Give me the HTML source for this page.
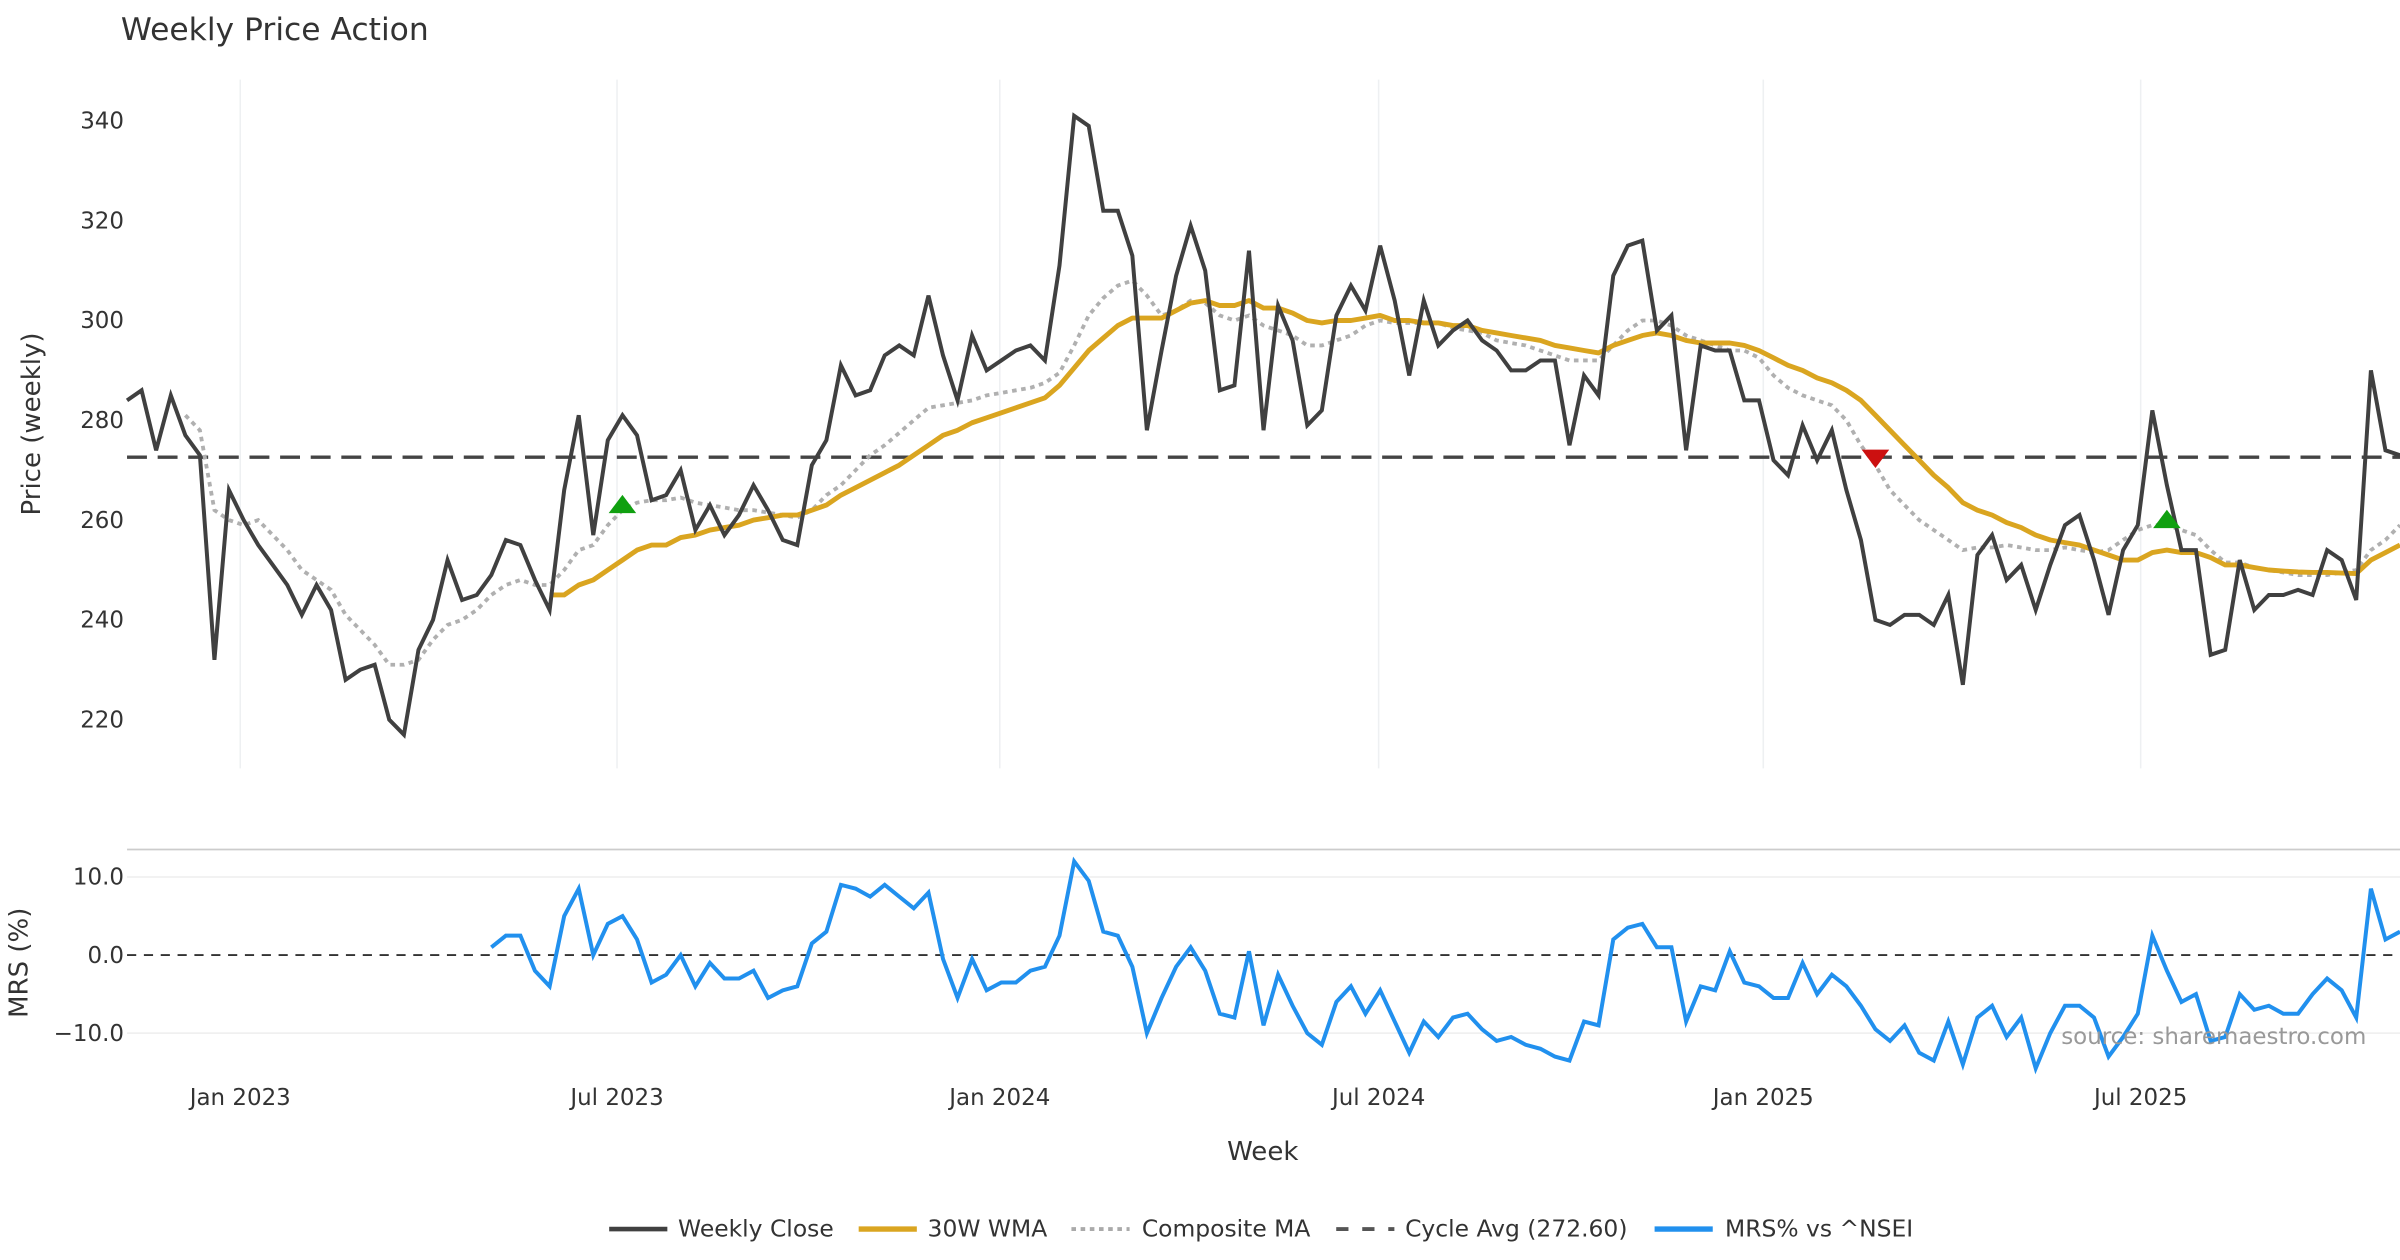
<!DOCTYPE html>
<html><head><meta charset="utf-8"><style>
html,body{margin:0;padding:0;background:#fff;}
svg{display:block;font-family:"DejaVu Sans","Liberation Sans",sans-serif;}
</style></head><body>
<svg id="chart" width="2400" height="1260" viewBox="0 0 1568 823.2" preserveAspectRatio="none" xmlns="http://www.w3.org/2000/svg">
<text x="79" y="26" font-size="20.5" fill="#333">Weekly Price Action</text>
<g id="grid"></g>
<g id="series"></g>
<text transform="translate(26,277) rotate(-90)" text-anchor="middle" font-size="17" fill="#333">Price (weekly)</text>
<text transform="translate(18,629) rotate(-90)" text-anchor="middle" font-size="17" fill="#333">MRS (%)</text>
<text x="825" y="758" text-anchor="middle" font-size="17" fill="#333">Week</text>
<text x="1546" y="682" text-anchor="end" font-size="15" fill="#999">source: sharemaestro.com</text>
<g font-size="15.3" fill="#333">
<g><line x1="398" y1="803" x2="436" y2="803" stroke="#404040" stroke-width="3"/><text x="443" y="808">Weekly Close</text></g>
<g><line x1="561" y1="803" x2="599" y2="803" stroke="#DAA520" stroke-width="3.5"/><text x="606" y="808">30W WMA</text></g>
<g><line x1="700" y1="803" x2="738" y2="803" stroke="#aaa" stroke-width="2.5" stroke-dasharray="3,3"/><text x="746" y="808">Composite MA</text></g>
<g><line x1="873" y1="803" x2="911" y2="803" stroke="#555" stroke-width="2.5" stroke-dasharray="8,9"/><text x="918" y="808">Cycle Avg (272.60)</text></g>
<g><line x1="1081" y1="803" x2="1119" y2="803" stroke="#2190ee" stroke-width="3.5"/><text x="1127" y="808">MRS% vs ^NSEI</text></g>
</g>
</svg>
<script>
const closes=[284,286,274,285,277,273,232,266,260,255,251,247,241,247,242,228,230,231,220,217,234,240,252,244,245,249,256,255,248,242,266,281,257,276,281,277,264,265,270,258,263,257,261,267,262,256,255,271,276,291,285,286,293,295,293,305,293,284,297,290,292,294,295,292,311,341,339,322,322,313,278,294,309,319,310,286,287,314,278,303,296,279,282,301,307,302,315,304,289,304,295,298,300,296,294,290,290,292,292,275,289,285,309,315,316,298,301,274,295,294,294,284,284,272,269,279,272,278,266,256,240,239,241,241,239,245,227,253,257,248,251,242,251,259,261,252,241,254,259,282,267,254,254,233,234,252,242,245,245,246,245,254,252,244,290,274,273];
const wma=[null,null,null,null,null,null,null,null,null,null,null,null,null,null,null,null,null,null,null,null,null,null,null,null,null,null,null,null,null,245,245,247,248,250,252,254,255,255,256.5,257,258,258.5,259,260,260.5,261,261,262,263,265,266.5,268,269.5,271,273,275,277,278,279.5,280.5,281.5,282.5,283.5,284.5,287,290.5,294,296.5,299,300.5,300.5,300.5,302,303.5,304,303,303,304,302.5,302.5,301.5,300,299.5,300,300,300.5,301,300,300,299.5,299.5,299,299,298,297.5,297,296.5,296,295,294.5,294,293.5,295,296,297,297.5,297,296,295.5,295.5,295.5,295,294,292.5,291,290,288.5,287.5,286,284,281,278,275,272,269,266.5,263.5,262,261,259.5,258.5,257,256,255.5,255,254,253,252,252,253.5,254,253.5,253.5,252.5,251,251,250.5,250,249.8,249.6,249.5,249.5,249.4,249.3,252,253.5,255];
const composite=[null,null,null,null,281,278,262,260,259,260,257,254,250,248,246,241,238,235,231,231,232,236,239,240,242,245,247,248,247,247,250,254,255,259,262,263.5,264,264,264.5,263.5,263,262.5,262,262,261.5,261,260.5,262,265,267,270,273,275,277.5,280,282.5,283,283.5,284,285,285.5,286,286.5,287.5,289.5,295,301,304.5,307,308,305,301,302,304,303.5,301,300,301,299,298,297,295,295,296,297,299,300,299.5,299.5,299.5,299.5,298.5,298,297.5,296,295.5,295,294,293,292,292,292,295,298,300,300,299,297,296,295,294,294,292.5,289,286.5,285,284,283,280,275,271,266,263,260,258,256,254,254.5,254.5,255,254.5,254,254,254.5,254,253.5,254,256,258,259,259,258,257,254,251.5,251.5,250.5,250,249.5,249,249,249,249.5,250,254,256,259];
const mrs=[null,null,null,null,null,null,null,null,null,null,null,null,null,null,null,null,null,null,null,null,null,null,null,null,null,1,2.5,2.5,-2,-4,5,8.5,0,4,5,2,-3.5,-2.5,0,-4,-1,-3,-3,-2,-5.5,-4.5,-4,1.5,3,9,8.5,7.5,9,7.5,6,8,-0.5,-5.5,-0.5,-4.5,-3.5,-3.5,-2,-1.5,2.5,12,9.5,3,2.5,-1.5,-10,-5.5,-1.5,1,-2,-7.5,-8,0.5,-9,-2.5,-6.5,-10,-11.5,-6,-4,-7.5,-4.5,-8.5,-12.5,-8.5,-10.5,-8,-7.5,-9.5,-11,-10.5,-11.5,-12,-13,-13.5,-8.5,-9,2,3.5,4,1,1,-8.5,-4,-4.5,0.5,-3.5,-4,-5.5,-5.5,-1,-5,-2.5,-4,-6.5,-9.5,-11,-9,-12.5,-13.5,-8.5,-14,-8,-6.5,-10.5,-8,-14.5,-10,-6.5,-6.5,-8,-13,-10.5,-7.5,2.5,-2,-6,-5,-11,-10.5,-5,-7,-6.5,-7.5,-7.5,-5,-3,-4.5,-8,8.5,2,3];
const cycleAvg=272.6;
const priceTicks=[220,240,260,280,300,320,340];
const mrsTicks=[-10,0,10];
const xTickLabels=["Jan 2023","Jul 2023","Jan 2024","Jul 2024","Jan 2025","Jul 2025"];
const xTickIdx=[7.77,33.63,59.9,85.9,112.3,138.2];
const buySignals=[34,140];
const sellSignals=[120];

const NS="http://www.w3.org/2000/svg";
const X0=83,X1=1568;
const n=closes.length;
const xS=i=>X0+i*(X1-X0)/(n-1);
const yP=v=>79+(340-v)*3.26;
const yM=v=>624-v*5.1;
function mk(tag,attrs,parent){const e=document.createElementNS(NS,tag);for(const k in attrs)e.setAttribute(k,attrs[k]);parent.appendChild(e);return e;}
const grid=document.getElementById('grid'),ser=document.getElementById('series');

xTickIdx.forEach((t,k)=>{
  const x=xS(t);
  const g=mk('line',{x1:x,x2:x,y1:52,y2:502,stroke:'#eef0f2','stroke-width':1},grid);
  
  
  const tx=mk('text',{x:x,y:722,'text-anchor':'middle','font-size':15,fill:'#333'},grid);
  tx.textContent=xTickLabels[k];
  
  
});
priceTicks.forEach(v=>{
  const tx=mk('text',{x:81,y:yP(v)+5,'text-anchor':'end','font-size':15,fill:'#333'},grid);
  tx.textContent=v;
  
  
});
const sep=mk('line',{x1:X0,x2:X1,y1:555,y2:555,stroke:'#ccc','stroke-width':1.2},grid);


mrsTicks.forEach(v=>{
  if(v!==0){const l=mk('line',{x1:X0,x2:X1,y1:yM(v),y2:yM(v),stroke:'#eee','stroke-width':1},grid);
  
  }
  const tx=mk('text',{x:81,y:yM(v)+5,'text-anchor':'end','font-size':15,fill:'#333'},grid);
  tx.textContent=(v<0?'\u2212':'')+Math.abs(v).toFixed(1);
  
  
});
const z=mk('line',{x1:X0,x2:X1,y1:yM(0),y2:yM(0),stroke:'#333','stroke-width':1.2,'stroke-dasharray':'6,5'},grid);



function path(arr,fy){let d='',pen=false;arr.forEach((v,i)=>{if(v==null){pen=false;return;}d+=(pen?'L':'M')+xS(i).toFixed(1)+','+fy(v).toFixed(1);pen=true;});return d;}
const cy=mk('line',{x1:X0,x2:X1,y1:yP(cycleAvg),y2:yP(cycleAvg),stroke:'#444','stroke-width':2.2,'stroke-dasharray':'13,7'},ser);


const pc=mk('path',{d:path(composite,yP),fill:'none',stroke:'#b0b0b0','stroke-width':2.5,'stroke-dasharray':'3,3'},ser);


const pw=mk('path',{d:path(wma,yP),fill:'none',stroke:'#DAA520','stroke-width':3.2,'stroke-linejoin':'round'},ser);


const pcl=mk('path',{d:path(closes,yP),fill:'none',stroke:'#404040','stroke-width':2.6,'stroke-linejoin':'miter'},ser);


const pm=mk('path',{d:path(mrs,yM),fill:'none',stroke:'#2190ee','stroke-width':2.6},ser);


buySignals.forEach(i=>{
  const x=xS(i),y=yP(composite[i])+2;
  const t=mk('polygon',{points:`${x-9},${y} ${x+9},${y} ${x},${y-12}`,fill:'#10a010'},ser);
  
  
});
sellSignals.forEach(i=>{
  const x=xS(i),y=yP(cycleAvg)-5;
  const t=mk('polygon',{points:`${x-9},${y} ${x+9},${y} ${x},${y+12}`,fill:'#cc1010'},ser);
  
  
});
</script>
</body></html>
